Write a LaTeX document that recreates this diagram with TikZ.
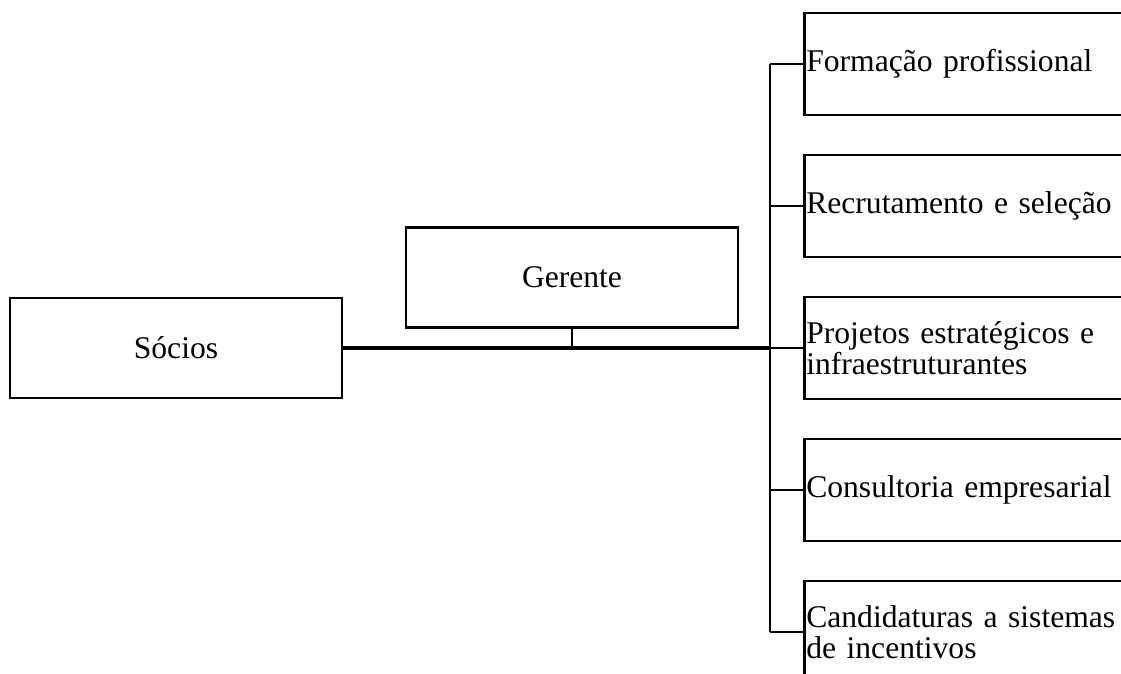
\documentclass[tikz,border=0pt]{standalone}
\usepackage{fontspec}
\setmainfont{Liberation Serif}
\usetikzlibrary{positioning}
\tikzset{
  box/.style={draw,line width=1.3pt,minimum width=166pt,minimum height=50pt,inner sep=0pt},
  unitbox/.style={draw,line width=1.3pt,anchor=west,minimum height=51pt,text width=170pt,
    inner xsep=1pt,inner ysep=0pt,align=left,font=\fontsize{15.8}{15.6}\selectfont},
  link/.style={line width=1.3pt},
  mainlink/.style={line width=2pt}
}
\begin{document}
\begin{tikzpicture}[x=0.5pt,y=-0.5pt,font=\fontsize{15.8}{15.6}\selectfont]
  \clip (0,0) rectangle (1121,674);

  % left side
  \node[box] (socios) at (176,348) {Sócios};
  \node[box] (gerente) at (572,277.5) {Gerente};

  % units on the right
  \node[unitbox] (formacao) at (803,64) {Formação profissional};
  \node[unitbox] (recrut) at (803,206) {Recrutamento e seleção};
  \node[unitbox] (projetos) at (803,348) {Projetos estratégicos e\\infraestruturantes};
  \node[unitbox] (consult) at (803,490) {Consultoria empresarial};
  \node[unitbox] (candid) at (803,632) {Candidaturas a sistemas\\de incentivos};

  \coordinate (trunk) at (770,348);

  % connectors
  \draw[mainlink] (socios.east) -- (trunk);
  \draw[link] (gerente.south) -- (gerente.south |- trunk);
  \draw[link] (formacao.west -| trunk) -- (candid.west -| trunk);
  \foreach \u in {formacao,recrut,projetos,consult,candid}
    \draw[link] (\u.west -| trunk) -- (\u.west);
\end{tikzpicture}
\end{document}
